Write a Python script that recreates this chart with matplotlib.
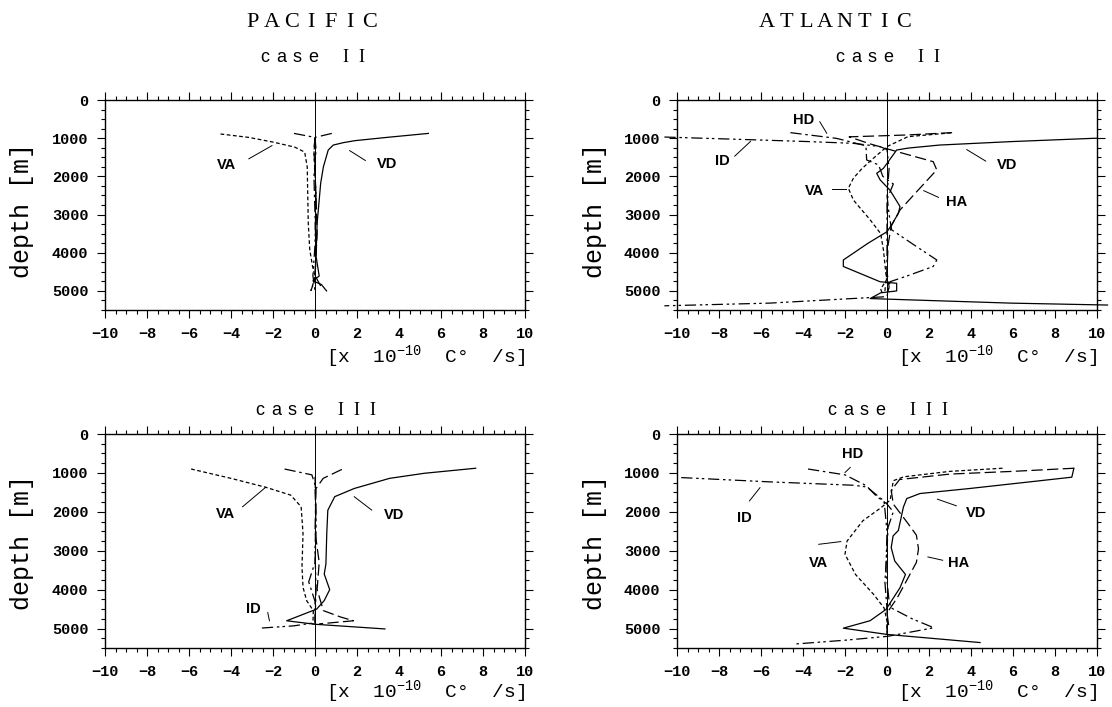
import matplotlib.pyplot as plt
from matplotlib.ticker import MultipleLocator

plt.rcParams['mathtext.default'] = 'regular'

# profiles: x in [x 10^-10 C/s], depth in m
# Pacific, case II
pac2_va_x = [-4.5, -3.15, -1.97, -0.96, -0.49, -0.37, -0.35, -0.32, -0.25, -0.12, 0.0, -0.12, -0.2]
pac2_va_d = [890, 980, 1105, 1235, 1365, 1755, 2360, 3230, 3920, 4350, 4610, 4870, 5000]
pac2_vd_x = [5.4, 3.5, 1.9, 1.35, 0.87, 0.63, 0.4, 0.27, 0.2, 0.1, 0.05, 0.2, -0.1, 0.3, 0.55]
pac2_vd_d = [875, 975, 1065, 1117, 1180, 1310, 1750, 2180, 2620, 3230, 4090, 4610, 4740, 4830, 5000]
pac2_hd_x = [-1.0, 0.0, 0.05, -0.05, 0.0, 0.05, 0.0, -0.2]
pac2_hd_d = [875, 980, 1300, 2000, 3000, 4000, 4700, 5000]
pac2_ha_x = [0.8, 0.0, -0.05, 0.05, 0.1, 0.0, 0.3]
pac2_ha_d = [875, 980, 1300, 2500, 3500, 4600, 4900]
pac2_id_x = [0.0, -0.05, 0.05, 0.0, -0.1, 0.0]
pac2_id_d = [1000, 1400, 2500, 3800, 4600, 5000]

# Atlantic, case II
atl2_va_x = [3.05, 1.0, 0.0, -0.7, -1.2, -1.6, -1.84, -1.6, -0.8, -0.3, -0.17, -0.02, -0.3, -0.2]
atl2_va_d = [860, 960, 1220, 1550, 1800, 2050, 2310, 2620, 3140, 3500, 3930, 4710, 4950, 5100]
atl2_vd_x = [10.0, 5.9, 2.5, 1.0, 0.46, -0.17, -0.49, -0.33, 0.14, 0.62, 0.54, 0.22, 0.0, -0.9,
             -2.08, -2.08, -0.33, 0.46, 0.46, -0.3, -0.8, 1.1, 5.9, 10.5]
atl2_vd_d = [1000, 1090, 1180, 1260, 1310, 1790, 1920, 2090, 2360, 2790, 2970, 3270, 3450, 3750,
             4190, 4360, 4760, 4800, 5000, 5050, 5200, 5235, 5320, 5370]
atl2_ha_x = [3.1, 1.0, -1.8, -0.8, 0.46, 2.2, 2.37, 1.5, 0.62, 0.2, 0.05, 0.0, 0.1, 0.0]
atl2_ha_d = [855, 915, 965, 1150, 1350, 1615, 1830, 2350, 2880, 3300, 3800, 4500, 4900, 5100]
atl2_hd_x = [-4.6, -2.4, -1.0, -0.97, -0.4, -0.2, 0.3, 0.0, 0.0, 0.0, -0.1]
atl2_hd_d = [855, 1005, 1200, 1570, 1700, 2000, 2200, 2600, 3500, 4500, 5000]
atl2_id_x = [-10.6, -6.5, -3.7, -1.6, -0.33, 0.0, 0.1, 0.0, 0.1, 0.22, 1.3, 2.37, 2.2, 1.0,
             0.14, 0.0, -5.6, -10.6]
atl2_id_d = [970, 1040, 1090, 1135, 1220, 1300, 1800, 2500, 3000, 3400, 3800, 4190, 4360, 4600,
             4760, 5150, 5320, 5390]

# Pacific, case III
pac3_va_x = [-5.9, -4.0, -2.34, -1.16, -0.66, -0.57, -0.62, -0.57, -0.4, -0.08, -0.1]
pac3_va_d = [900, 1140, 1370, 1570, 1870, 2560, 3420, 3940, 4280, 4540, 4900]
pac3_vd_x = [7.65, 5.2, 3.55, 1.87, 0.94, 0.61, 0.56, 0.52, 0.44, 0.7, 0.44, 0.08, -1.35, 0.0, 3.33]
pac3_vd_d = [880, 1010, 1140, 1400, 1610, 1960, 2560, 3340, 3600, 4000, 4280, 4500, 4800, 4890, 5010]
pac3_hd_x = [-1.45, -0.15, 0.0, 0.05, 0.0, -0.3, 0.0, 0.0]
pac3_hd_d = [900, 1050, 1300, 2500, 3300, 3800, 4300, 4900]
pac3_ha_x = [1.28, 0.39, 0.05, 0.0, 0.2, 0.1, 0.4, 1.2, 1.83, 0.2]
pac3_ha_d = [910, 1140, 1400, 2500, 3300, 4000, 4540, 4700, 4800, 4880]
pac3_id_x = [0.0, 0.05, 0.0, 0.05, 0.0, -1.0, -2.62]
pac3_id_d = [1100, 2000, 3000, 4000, 4850, 4930, 4990]

# Atlantic, case III
atl3_va_x = [5.5, 3.0, 0.8, 0.3, 0.15, -0.3, -1.15, -1.9, -2.0, -1.5, -0.64, -0.14, 0.0, 0.0]
atl3_va_d = [880, 960, 1100, 1200, 1700, 1900, 2230, 2750, 3090, 3610, 4120, 4470, 4800, 5200]
atl3_vd_x = [8.9, 8.8, 6.8, 3.95, 1.57, 0.94, 0.78, 0.54, 0.29, 0.2, 0.37, 0.88, 0.62, 0.2,
             -0.05, -0.81, -2.08, -0.02, 4.43]
atl3_vd_d = [880, 1110, 1230, 1400, 1530, 1660, 1880, 2480, 2620, 2920, 3265, 3610, 3950, 4300,
             4510, 4800, 4990, 5150, 5360]
atl3_ha_x = [8.9, 6.0, 3.0, 0.6, 0.2, 0.3, 1.0, 1.4, 1.5, 1.4, 1.0, 0.5, 0.0, 0.1]
atl3_ha_d = [880, 960, 1030, 1170, 1450, 1800, 2300, 2600, 2950, 3300, 3700, 4200, 4600, 5000]
atl3_hd_x = [-3.76, -2.0, -0.98, -0.5, 0.0, 0.3, 0.05, 0.0, -0.1, 0.0, 0.0]
atl3_hd_d = [900, 1050, 1330, 1600, 1800, 2000, 2400, 3000, 3800, 4500, 5100]
atl3_id_x = [-9.8, -5.6, -1.6, -0.97, -0.14, 0.0, -0.05, 0.1, 0.2, 1.2, 2.23, 0.03, -2.0, -4.44]
atl3_id_d = [1120, 1230, 1317, 1360, 1720, 2500, 3500, 4300, 4470, 4750, 4980, 5200, 5300, 5400]

x_ticks = [-10, -8, -6, -4, -2, 0, 2, 4, 6, 8, 10]
depth_ticks = [0, 1000, 2000, 3000, 4000, 5000]

# line style per quantity
STYLES = {
    'VA': (0, (3, 2)),
    'VD': '-',
    'HA': (0, (9, 3.5)),
    'HD': (0, (9, 3, 2, 3)),
    'ID': (0, (9, 3, 2, 2.5, 2, 3)),
}

FIG_W, FIG_H = 1112, 707


def spaced_text(fig, x_px, y_px, text, step_px, serif_caps=False, **kw):
    """Writes text one character at a time with a fixed pitch (letter spaced
       titles of the original figure). x_px is the centre of the string."""
    start = x_px - step_px * (len(text) - 1) / 2
    for i, ch in enumerate(text):
        if ch == ' ':
            continue
        opts = dict(kw)
        if serif_caps and ch.isupper():
            opts['family'] = 'Liberation Serif'
        fig.text((start + i * step_px) / FIG_W, 1 - y_px / FIG_H, ch,
                 ha='center', va='baseline', **opts)


def label_curve(ax, text, xy_text, xy_from, xy_to):
    """Bold curve name with a short leader line."""
    ax.text(xy_text[0], xy_text[1], text, ha='center', va='center',
            fontsize=10.5, fontweight='bold', family='Liberation Sans')
    ax.plot([xy_from[0], xy_to[0]], [xy_from[1], xy_to[1]], color='black', lw=0.7)


def setup_axes(ax):
    ax.set_xlim(-10, 10)
    ax.set_ylim(5500, 0)
    ax.set_xticks(x_ticks)
    ax.set_yticks(depth_ticks)
    ax.xaxis.set_minor_locator(MultipleLocator(0.5))
    ax.yaxis.set_minor_locator(MultipleLocator(250))
    ax.tick_params(which='both', direction='out', top=True, right=True, width=0.8)
    ax.tick_params(which='major', length=6, pad=6)
    ax.tick_params(which='minor', length=3)
    for lbl in ax.get_xticklabels() + ax.get_yticklabels():
        lbl.set_family('Liberation Mono')
        lbl.set_fontweight('bold')
        lbl.set_fontsize(11)
    for sp in ax.spines.values():
        sp.set_linewidth(1.0)
    ax.axvline(0, color='black', lw=0.7)


def plot_profiles(ax, profiles):
    for name, xs, ds in profiles:
        ax.plot(xs, ds, color='black', lw=0.9, linestyle=STYLES[name], clip_on=False)


fig = plt.figure(figsize=(FIG_W / 100, FIG_H / 100), dpi=100)

ax_p2 = fig.add_axes([105 / FIG_W, 1 - 310 / FIG_H, 420 / FIG_W, 210 / FIG_H])
ax_a2 = fig.add_axes([677 / FIG_W, 1 - 310 / FIG_H, 420 / FIG_W, 210 / FIG_H])
ax_p3 = fig.add_axes([105 / FIG_W, 1 - 648 / FIG_H, 420 / FIG_W, 214 / FIG_H])
ax_a3 = fig.add_axes([677 / FIG_W, 1 - 648 / FIG_H, 420 / FIG_W, 214 / FIG_H])

for ax in (ax_p2, ax_a2, ax_p3, ax_a3):
    setup_axes(ax)

plot_profiles(ax_p2, [('VA', pac2_va_x, pac2_va_d), ('VD', pac2_vd_x, pac2_vd_d),
                      ('HD', pac2_hd_x, pac2_hd_d), ('HA', pac2_ha_x, pac2_ha_d),
                      ('ID', pac2_id_x, pac2_id_d)])
plot_profiles(ax_a2, [('VA', atl2_va_x, atl2_va_d), ('VD', atl2_vd_x, atl2_vd_d),
                      ('HD', atl2_hd_x, atl2_hd_d), ('HA', atl2_ha_x, atl2_ha_d),
                      ('ID', atl2_id_x, atl2_id_d)])
plot_profiles(ax_p3, [('VA', pac3_va_x, pac3_va_d), ('VD', pac3_vd_x, pac3_vd_d),
                      ('HD', pac3_hd_x, pac3_hd_d), ('HA', pac3_ha_x, pac3_ha_d),
                      ('ID', pac3_id_x, pac3_id_d)])
plot_profiles(ax_a3, [('VA', atl3_va_x, atl3_va_d), ('VD', atl3_vd_x, atl3_vd_d),
                      ('HD', atl3_hd_x, atl3_hd_d), ('HA', atl3_ha_x, atl3_ha_d),
                      ('ID', atl3_id_x, atl3_id_d)])

# curve names
label_curve(ax_p2, 'VA', (-4.2, 1710), (-3.15, 1540), (-2.05, 1195))
label_curve(ax_p2, 'VD', (3.45, 1670), (2.4, 1585), (1.65, 1325))

label_curve(ax_a2, 'HD', (-3.95, 525), (-3.2, 570), (-2.87, 870))
label_curve(ax_a2, 'ID', (-7.85, 1600), (-7.25, 1470), (-6.5, 1085))
label_curve(ax_a2, 'VD', (5.7, 1690), (4.7, 1600), (3.8, 1300))
label_curve(ax_a2, 'VA', (-3.45, 2375), (-2.6, 2335), (-1.95, 2335))
label_curve(ax_a2, 'HA', (3.3, 2680), (2.45, 2550), (1.75, 2375))

label_curve(ax_p3, 'VA', (-4.25, 2045), (-3.45, 1870), (-2.35, 1370))
label_curve(ax_p3, 'VD', (3.75, 2085), (2.7, 1955), (1.87, 1612))
label_curve(ax_p3, 'ID', (-2.95, 4500), (-2.25, 4590), (-2.17, 4800))

label_curve(ax_a3, 'HD', (-1.65, 515), (-1.75, 860), (-2.0, 990))
label_curve(ax_a3, 'ID', (-6.8, 2150), (-6.55, 1720), (-6.05, 1380))
label_curve(ax_a3, 'VD', (4.25, 2020), (3.3, 1845), (2.4, 1675))
label_curve(ax_a3, 'VA', (-3.25, 3310), (-3.25, 2835), (-2.2, 2765))
label_curve(ax_a3, 'HA', (3.4, 3310), (2.65, 3245), (1.95, 3160))

# headings
spaced_text(fig, 311, 27, 'PACIFIC', 19.5, family='Liberation Serif', fontsize=16)
spaced_text(fig, 835, 27, 'ATLANTIC', 19.5, family='Liberation Serif', fontsize=16)
for x_px, y_px, text in [(313, 62, 'case II'), (888, 62, 'case II'),
                         (316, 415, 'case III'), (888, 415, 'case III')]:
    spaced_text(fig, x_px, y_px, text, 16, serif_caps=True,
                family='Liberation Sans', fontsize=13)

# axis labels
unit_label = '[x  10$^{-10}$  C\u00b0  /s]'
for x_right, y_px in [(525, 357), (1097, 357), (525, 692), (1097, 692)]:
    fig.text(x_right / FIG_W, 1 - y_px / FIG_H, unit_label, ha='right', va='center',
             family='Liberation Mono', fontsize=14)
for x_px, y_px in [(22, 210), (595, 210), (22, 543), (595, 543)]:
    fig.text(x_px / FIG_W, 1 - y_px / FIG_H, 'depth [m]', rotation=90, ha='center',
             va='center', family='Liberation Mono', fontsize=18)

plt.savefig('out.png', dpi=100)
